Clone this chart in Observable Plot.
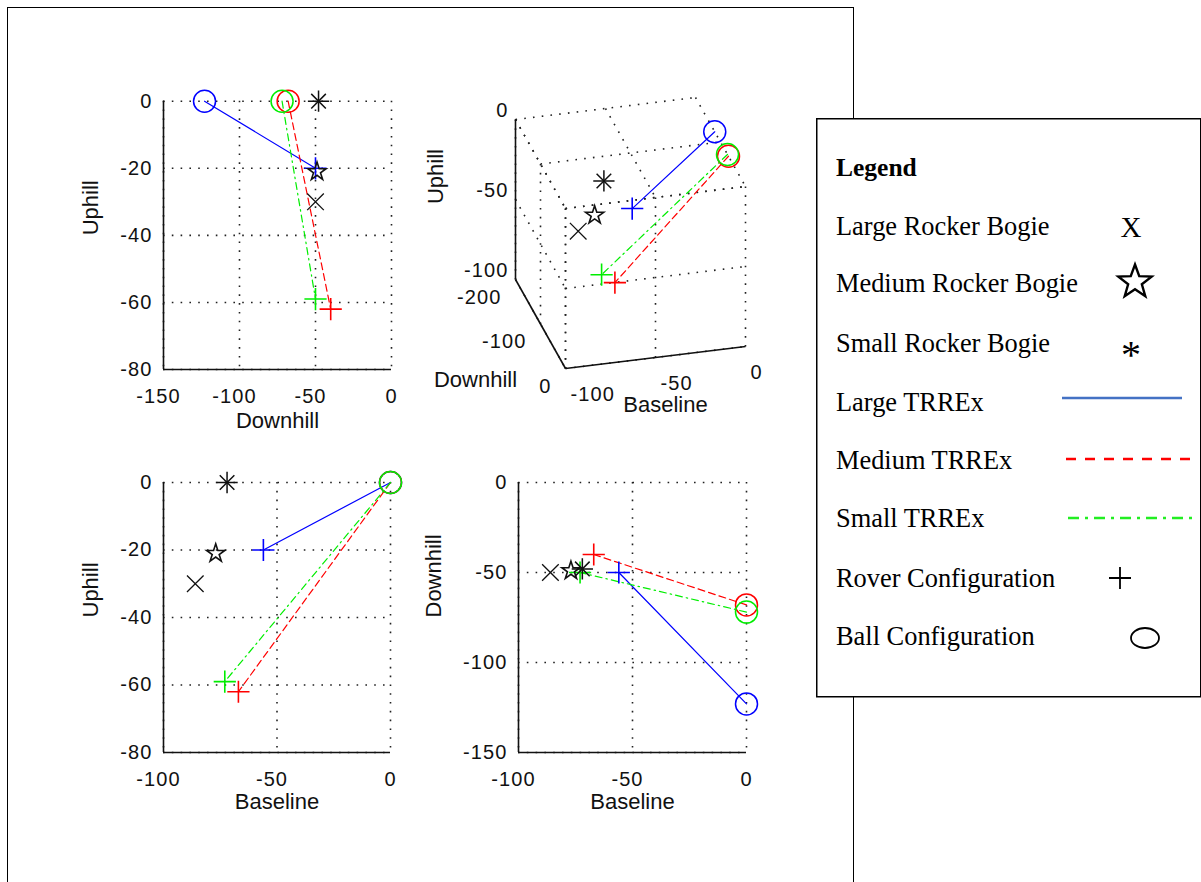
<!DOCTYPE html>
<html><head><meta charset="utf-8">
<script src="https://cdn.jsdelivr.net/npm/d3@7"></script>
<script src="https://cdn.jsdelivr.net/npm/@observablehq/plot@0.6"></script>
<style>
html,body{margin:0;padding:0;background:#fff;}
#page{position:relative;width:1201px;height:882px;overflow:hidden;background:#fff;}
#frame{position:absolute;left:7px;top:7px;width:847px;height:900px;border:1.5px solid #000;box-sizing:border-box;}
.panel{position:absolute;}
.panel svg{overflow:visible;}
.panel g[aria-label$="tick label"] text, .panel g.ticklbl text{letter-spacing:1.1px;}
#legend{position:absolute;left:816px;top:118px;width:390px;height:580px;}
</style></head>
<body><div id="page"><div id="frame"></div></div>
<script>
// ---------- data ----------
const trrexNames = ["Large TRREx", "Medium TRREx", "Small TRREx"];
const ballBaseline = [0, 0, 0];
const ballDownhill = [-123, -68, -72];
const ballUphill = [0, 0, 0];
const roverBaseline = [-56, -67, -73];
const roverDownhill = [-50, -40, -50];
const roverUphill = [-20, -62, -59];

const bogieNames = ["Large Rocker Bogie", "Medium Rocker Bogie", "Small Rocker Bogie"];
const bogieBaseline = [-86, -77, -72];
const bogieDownhill = [-50, -49, -48];
const bogieUphill = [-30, -21, 0];

const downhillTicksTL = [-150, -100, -50, 0];
const uphillTicks = [-80, -60, -40, -20, 0];
const baselineTicks = [-100, -50, 0];
const downhillTicksBR = [-150, -100, -50, 0];
const baselineTicks3 = [-100, -50, 0];
const downhillTicks3 = [-200, -100, 0];
const uphillTicks3 = [-100, -50, 0];

const legendTitle = "Legend";
const legendLabels = ["Large Rocker Bogie", "Medium Rocker Bogie", "Small Rocker Bogie",
  "Large TRREx", "Medium TRREx", "Small TRREx", "Rover Configuration", "Ball Configuration"];

// ---------- styles ----------
const seriesColor = ["#0000ff", "#ff0000", "#00ee00"];
const seriesDash = [undefined, "7,4", "7,4,1.5,4"];
const gridStyle = {stroke: "#222", strokeDasharray: "1.6,7.2", strokeWidth: 1.6};
const FONT = "'Liberation Sans', Arial, Helvetica, sans-serif";
const TICK_FS = 20, LABEL_FS = 22;

// ---------- tables ----------
const trrexPoints = trrexNames.flatMap((name, i) => [
  {name, cfg: "Ball", baseline: ballBaseline[i], downhill: ballDownhill[i], uphill: ballUphill[i]},
  {name, cfg: "Rover", baseline: roverBaseline[i], downhill: roverDownhill[i], uphill: roverUphill[i]}
]);
const bogies = bogieNames.map((name, i) => ({name, baseline: bogieBaseline[i], downhill: bogieDownhill[i], uphill: bogieUphill[i]}));

function dataMarks(fx, fy) {
  const marks = [];
  trrexNames.forEach((name, i) => {
    const pts = trrexPoints.filter(p => p.name === name);
    marks.push(Plot.line(pts, {x: fx, y: fy, stroke: seriesColor[i], strokeWidth: 1.2, strokeDasharray: seriesDash[i]}));
  });
  trrexNames.forEach((name, i) => {
    const pts = trrexPoints.filter(p => p.name === name);
    marks.push(Plot.dot(pts.filter(p => p.cfg === "Ball"), {x: fx, y: fy, symbol: "circle", r: 11, fill: "none", stroke: seriesColor[i], strokeWidth: 1.5}));
    marks.push(Plot.dot(pts.filter(p => p.cfg === "Rover"), {x: fx, y: fy, symbol: "plus", r: 7.2, stroke: seriesColor[i], strokeWidth: 1.6}));
  });
  marks.push(Plot.dot([bogies[0]], {x: fx, y: fy, symbol: "times", r: 7.6, stroke: "#111", strokeWidth: 1.3}));
  marks.push(Plot.dot([bogies[1]], {x: fx, y: fy, symbol: "star", r: 5.7, fill: "none", stroke: "#111", strokeWidth: 1.6}));
  marks.push(Plot.dot([bogies[2]], {x: fx, y: fy, symbol: "plus", r: 6.9, stroke: "#111", strokeWidth: 1.5}));
  marks.push(Plot.dot([bogies[2]], {x: fx, y: fy, symbol: "times", r: 6.7, stroke: "#111", strokeWidth: 1.5}));
  return marks;
}

function panel2D(cfg) {
  const {left, top, width, height, m, xKey, yKey, xTicks, yTicks, xLabel, yLabel, xLabelDy, yLabelDx} = cfg;
  const xDom = d3.extent(xTicks), yDom = d3.extent(yTicks);
  const chart = Plot.plot({
    width, height,
    marginLeft: m[0], marginRight: m[1], marginTop: m[2], marginBottom: m[3],
    x: {domain: xDom, axis: null},
    y: {domain: yDom, axis: null},
    style: {fontFamily: FONT, fontSize: TICK_FS + "px", color: "#111", background: "transparent", overflow: "visible"},
    marks: [
      Plot.ruleX(xTicks, gridStyle),
      Plot.ruleY(yTicks, gridStyle),
      Plot.ruleX([xDom[0]], {stroke: "#111", strokeWidth: 1.6}),
      Plot.ruleY([yDom[0]], {stroke: "#111", strokeWidth: 1.6}),
      Plot.axisX(xTicks.filter(t => t < 0), {anchor: "bottom", tickSize: 0, tickPadding: 19, dx: -5, tickFormat: d => String(d), label: null, fontSize: TICK_FS}),
      Plot.axisX(xTicks.filter(t => t >= 0), {anchor: "bottom", tickSize: 0, tickPadding: 19, tickFormat: d => String(d), label: null, fontSize: TICK_FS}),
      Plot.axisY(yTicks, {anchor: "left", tickSize: 0, tickPadding: 11, tickFormat: d => String(d), label: null, fontSize: TICK_FS}),
      Plot.text([xLabel], {text: d => d, frameAnchor: "bottom", dy: xLabelDy, fontSize: LABEL_FS}),
      Plot.text([yLabel], {text: d => d, frameAnchor: "left", dx: yLabelDx, rotate: -90, fontSize: LABEL_FS}),
      ...dataMarks(p => p[xKey], p => p[yKey])
    ]
  });
  const div = document.createElement("div");
  div.className = "panel";
  div.style.left = left + "px";
  div.style.top = top + "px";
  div.appendChild(chart);
  document.getElementById("page").appendChild(div);
}

panel2D({left: 60, top: 70, width: 360, height: 380, m: [103, 29, 30.7, 81],
  xKey: "downhill", yKey: "uphill", xTicks: downhillTicksTL, yTicks: uphillTicks,
  xLabel: "Downhill", yLabel: "Uphill", xLabelDy: 58, yLabelDx: -73});
panel2D({left: 60, top: 450, width: 360, height: 380, m: [103, 30, 32, 78],
  xKey: "baseline", yKey: "uphill", xTicks: baselineTicks, yTicks: uphillTicks,
  xLabel: "Baseline", yLabel: "Uphill", xLabelDy: 56, yLabelDx: -73});
panel2D({left: 420, top: 450, width: 360, height: 380, m: [98, 34, 32, 78],
  xKey: "baseline", yKey: "downhill", xTicks: baselineTicks, yTicks: downhillTicksBR,
  xLabel: "Baseline", yLabel: "Downhill", xLabelDy: 56, yLabelDx: -85});

// ---------- 3D panel (parallel projection) ----------
const P = (b, d, u) => [1.8 * b + 0.25 * d, 0.22 * b - 0.445 * d + 1.6 * u];
const bD = d3.extent(baselineTicks3), dD = d3.extent(downhillTicks3), uD = d3.extent(uphillTicks3);
const grid3 = [];
baselineTicks3.forEach(b => grid3.push([[b, dD[0], uD[1]], [b, dD[1], uD[1]]]));
downhillTicks3.forEach(d => grid3.push([[bD[0], d, uD[1]], [bD[1], d, uD[1]]]));
downhillTicks3.forEach(d => grid3.push([[bD[0], d, uD[0]], [bD[0], d, uD[1]]]));
uphillTicks3.forEach(u => grid3.push([[bD[0], dD[0], u], [bD[0], dD[1], u]]));
baselineTicks3.forEach(b => grid3.push([[b, dD[1], uD[0]], [b, dD[1], uD[1]]]));
uphillTicks3.forEach(u => grid3.push([[bD[0], dD[1], u], [bD[1], dD[1], u]]));
const axes3 = [
  [[bD[0], dD[0], uD[0]], [bD[0], dD[0], uD[1]]],
  [[bD[0], dD[0], uD[0]], [bD[0], dD[1], uD[0]]],
  [[bD[0], dD[1], uD[0]], [bD[1], dD[1], uD[0]]]
];
const linkOpts = {
  x1: s => P(...s[0])[0], y1: s => P(...s[0])[1],
  x2: s => P(...s[1])[0], y2: s => P(...s[1])[1]
};
const px = p => P(p.baseline, p.downhill, p.uphill)[0];
const py = p => P(p.baseline, p.downhill, p.uphill)[1];
const chart3 = Plot.plot({
  width: 360, height: 360, marginLeft: 0, marginRight: 0, marginTop: 0, marginBottom: 0,
  x: {domain: [-325, 35], axis: null},
  y: {domain: [-245, 115], axis: null},
  style: {fontFamily: FONT, fontSize: TICK_FS + "px", color: "#111", background: "transparent", overflow: "visible"},
  marks: [
    Plot.link(grid3, {...linkOpts, ...gridStyle}),
    Plot.link(axes3, {...linkOpts, stroke: "#111", strokeWidth: 1.6}),
    Plot.text(uphillTicks3, {x: u => P(bD[0], dD[0], u)[0], y: u => P(bD[0], dD[0], u)[1], text: d => String(d), textAnchor: "end", dx: -7, dy: -9, fontSize: TICK_FS, className: "ticklbl"}),
    Plot.text(downhillTicks3, {x: d => P(bD[0], d, uD[0])[0], y: d => P(bD[0], d, uD[0])[1], text: d => String(d), textAnchor: "end", dx: -14, dy: 18, fontSize: TICK_FS, className: "ticklbl"}),
    Plot.text(baselineTicks3, {x: b => P(b, dD[1], uD[0])[0], y: b => P(b, dD[1], uD[0])[1], text: d => String(d), textAnchor: "start", dx: 5, dy: 26, fontSize: TICK_FS, className: "ticklbl"}),
    Plot.text(["Uphill"], {x: () => P(bD[0], dD[0], d3.mean(uD))[0], y: () => P(bD[0], dD[0], d3.mean(uD))[1], text: d => d, rotate: -90, dx: -80, dy: -23, fontSize: LABEL_FS}),
    Plot.text(["Downhill"], {x: () => P(bD[0], d3.mean(dD), uD[0])[0], y: () => P(bD[0], d3.mean(dD), uD[0])[1], text: d => d, dx: -65, dy: 56, fontSize: LABEL_FS}),
    Plot.text(["Baseline"], {x: () => P(d3.mean(bD), dD[1], uD[0])[0], y: () => P(d3.mean(bD), dD[1], uD[0])[1], text: d => d, dx: 10, dy: 47, fontSize: LABEL_FS}),
    ...dataMarks(px, py)
  ]
});
{
  const div = document.createElement("div");
  div.className = "panel";
  div.style.left = "420px";
  div.style.top = "71px";
  div.appendChild(chart3);
  document.getElementById("page").appendChild(div);
}

// ---------- legend ----------
{
  const W = 390, H = 580;
  const svg = d3.create("svg").attr("width", W).attr("height", H).attr("id", "legendsvg")
    .style("font-family", "'Liberation Serif', 'Times New Roman', serif");
  svg.append("rect").attr("x", 0.75).attr("y", 0.75).attr("width", 384).attr("height", 578)
    .attr("fill", "#fff").attr("stroke", "#000").attr("stroke-width", 1.5);
  const ox = 816, oy = 118;
  svg.append("text").attr("x", 836 - ox).attr("y", 176 - oy).attr("font-size", 25.5).attr("font-weight", "bold").text(legendTitle);
  const rowY = [227, 284, 344, 403, 461, 519, 579, 637];
  legendLabels.forEach((t, i) => {
    svg.append("text").attr("x", 836 - ox).attr("y", rowY[i] + 8 - oy).attr("font-size", 26.4).text(t);
  });
  // symbols
  svg.append("text").attr("x", 1131 - ox).attr("y", rowY[0] + 10 - oy).attr("text-anchor", "middle").attr("font-size", 29).text("X");
  const star = d3.range(10).map(k => {
    const R = k % 2 ? 7.2 : 17.5, a = -Math.PI / 2 + k * Math.PI / 5;
    return [1135 - ox + R * Math.cos(a), rowY[1] - 2 - oy + R * Math.sin(a)];
  });
  svg.append("polygon").attr("points", star.map(p => p.join(",")).join(" ")).attr("fill", "none").attr("stroke", "#000").attr("stroke-width", 2.4);
  svg.append("text").attr("x", 1131 - ox).attr("y", rowY[2] + 24 - oy).attr("text-anchor", "middle").attr("font-size", 40).text("*");
  const ly = [398, 459, 518];
  svg.append("line").attr("x1", 1062 - ox).attr("x2", 1182 - ox).attr("y1", ly[0] - oy).attr("y2", ly[0] - oy).attr("stroke", "#4472c4").attr("stroke-width", 2.5);
  svg.append("line").attr("x1", 1066 - ox).attr("x2", 1190 - ox).attr("y1", ly[1] - oy).attr("y2", ly[1] - oy).attr("stroke", "#ff0000").attr("stroke-width", 2.5).attr("stroke-dasharray", "10,9");
  svg.append("line").attr("x1", 1068 - ox).attr("x2", 1192 - ox).attr("y1", ly[2] - oy).attr("y2", ly[2] - oy).attr("stroke", "#22ee22").attr("stroke-width", 2.5).attr("stroke-dasharray", "11,6,3,6");
  const pc = [1120 - ox, rowY[6] - 1 - oy];
  svg.append("path").attr("d", `M${pc[0] - 11},${pc[1]}H${pc[0] + 11}M${pc[0]},${pc[1] - 11}V${pc[1] + 11}`).attr("stroke", "#000").attr("stroke-width", 1.8);
  svg.append("ellipse").attr("cx", 1145 - ox).attr("cy", rowY[7] + 1 - oy).attr("rx", 14).attr("ry", 10).attr("fill", "none").attr("stroke", "#000").attr("stroke-width", 1.8);
  const div = document.createElement("div");
  div.id = "legend";
  div.appendChild(svg.node());
  document.getElementById("page").appendChild(div);
}
</script>
</body></html>
